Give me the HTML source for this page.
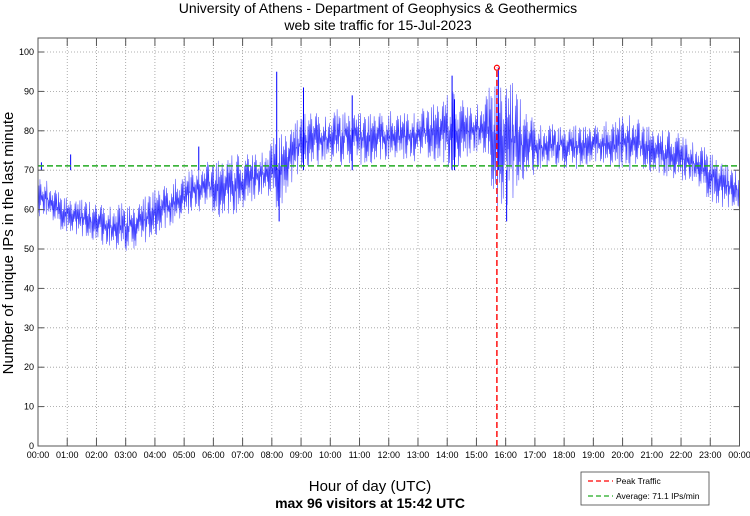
<!DOCTYPE html>
<html><head><meta charset="utf-8"><style>
body{margin:0;background:#fff;width:750px;height:511px;overflow:hidden;font-family:"Liberation Sans",sans-serif}
svg text{font-family:"Liberation Sans",sans-serif}
</style></head><body>
<svg id="chart" width="750" height="511">
<text x="378" y="13" text-anchor="middle" font-size="14">University of Athens - Department of Geophysics &amp; Geothermics</text>
<text x="378" y="30" text-anchor="middle" font-size="14">web site traffic for 15-Jul-2023</text>
<g id="grid"></g>
<g id="series"></g>
<g id="overlay"></g>
<rect x="38" y="38" width="701.5" height="408" fill="none" stroke="#555" stroke-width="1"/>
<g id="ticks"></g>
<text transform="translate(13,243) rotate(-90)" text-anchor="middle" font-size="15">Number of unique IPs in the last minute</text>
<text x="370" y="491" text-anchor="middle" font-size="15">Hour of day (UTC)</text>
<text x="370" y="508" text-anchor="middle" font-size="14" font-weight="bold">max 96 visitors at 15:42 UTC</text>
<g>
<rect x="581" y="472" width="128" height="33" fill="#fff" stroke="#444" stroke-width="0.8"/>
<line x1="588" y1="481" x2="613" y2="481" stroke="red" stroke-width="1.3" stroke-dasharray="5,3"/>
<text x="616" y="484" font-size="8.5">Peak Traffic</text>
<line x1="588" y1="496" x2="613" y2="496" stroke="#2a2" stroke-width="1.3" stroke-dasharray="5,3"/>
<text x="616" y="499" font-size="8.5">Average: 71.1 IPs/min</text>
</g>
</svg>
<script>
// half-hour bins: low and high of the noisy band
const binLow  = [58,55,54,52,51,49,50,52,54,57,59,60,58,59,62,63,60,68,70,72,71,72,71,72,73,72,73,72,70,74,73,60,62,68,70,71,70,71,72,70,70,70,69,68,67,64,61,60];
const binHigh = [68,64,63,62,61,62,62,64,66,68,70,72,73,74,74,75,80,82,85,84,86,86,84,85,85,84,86,88,90,86,88,96,92,84,82,82,82,81,82,83,84,82,80,80,78,76,74,70];
const spikeMinutes = [7,67,330,490,495,545,645,850,855,945,962];
const spikeValues  = [72,74,76,95,57,91,89,94,88,96,57];
const yTicks = [0,10,20,30,40,50,60,70,80,90,100];
const xTickLabels = ["00:00","01:00","02:00","03:00","04:00","05:00","06:00","07:00","08:00","09:00","10:00","11:00","12:00","13:00","14:00","15:00","16:00","17:00","18:00","19:00","20:00","21:00","22:00","23:00","00:00"];
const avgValue = 71.1, peakMinute = 942, peakValue = 96;

const NS="http://www.w3.org/2000/svg";
const X0=38,X1=739.5,Y0=446,PPU=3.94;
const xs=m=>X0+m*(X1-X0)/1440, ys=v=>Y0-v*PPU;
function mk(tag,attrs,parent){const e=document.createElementNS(NS,tag);for(const k in attrs)e.setAttribute(k,attrs[k]);parent.appendChild(e);return e;}
const grid=document.getElementById('grid'),ticks=document.getElementById('ticks'),series=document.getElementById('series'),ov=document.getElementById('overlay');

yTicks.forEach(v=>{
  const y=ys(v);
  if(v>0){const g=mk('line',{x1:X0,x2:X1,y1:y,y2:y,stroke:'#999','stroke-width':0.8,'stroke-dasharray':'1,2'},grid);
  
  }
  mk('line',{x1:X0,x2:X0+6,y1:y,y2:y,stroke:'#555'},ticks);
  mk('line',{x1:X1-6,x2:X1,y1:y,y2:y,stroke:'#555'},ticks);
  const t=mk('text',{x:X0-4,y:y+3,'text-anchor':'end','font-size':9},ticks);t.textContent=v;
  
  
});
xTickLabels.forEach((lab,i)=>{
  const x=xs(i*60);
  if(i>0&&i<24){const g=mk('line',{x1:x,x2:x,y1:38,y2:Y0,stroke:'#999','stroke-width':0.8,'stroke-dasharray':'1,2'},grid);
  
  }
  mk('line',{x1:x,x2:x,y1:Y0,y2:Y0-8,stroke:'#555'},ticks);
  mk('line',{x1:x,x2:x,y1:38,y2:46,stroke:'#555'},ticks);
  const t=mk('text',{x:x,y:Y0+12,'text-anchor':'middle','font-size':9},ticks);t.textContent=lab;
  
  
});

// band: irregular zigzag between interpolated low/high, one point per minute
let pts=[];
const n=binLow.length;
for(let m=0;m<1440;m++){
  const f=m/30-0.5, i=Math.max(0,Math.min(n-1,Math.floor(f))), j=Math.min(n-1,i+1), t=Math.max(0,Math.min(1,f-i));
  const lo=binLow[i]+(binLow[j]-binLow[i])*t, hi=binHigh[i]+(binHigh[j]-binHigh[i])*t;
  const frac=((m*37+(m*m)%13)%17)/16;
  const v=(m%2===0)?lo+(hi-lo)*(0.5+0.5*frac):lo+(hi-lo)*(0.5*frac);
  pts.push(xs(m).toFixed(2)+','+ys(v).toFixed(1));
}
const band=mk('polyline',{points:pts.join(' '),fill:'none',stroke:'#0000ff','stroke-width':0.55,'stroke-opacity':0.75},series);


spikeMinutes.forEach((m,i)=>{
  const s=mk('line',{x1:xs(m),x2:xs(m),y1:ys(70),y2:ys(spikeValues[i]),stroke:'#00f','stroke-width':1},series);
  
  
});

const avg=mk('line',{x1:X0,x2:X1,y1:ys(avgValue),y2:ys(avgValue),stroke:'#2a2','stroke-width':1.4,'stroke-dasharray':'6,3'},ov);


const pk=mk('line',{x1:xs(peakMinute),x2:xs(peakMinute),y1:Y0,y2:ys(peakValue),stroke:'red','stroke-width':1.4,'stroke-dasharray':'6,3'},ov);


const c=mk('circle',{cx:xs(peakMinute),cy:ys(peakValue),r:2.5,fill:'none',stroke:'red','stroke-width':1.2},ov);


</script>
</body></html>
